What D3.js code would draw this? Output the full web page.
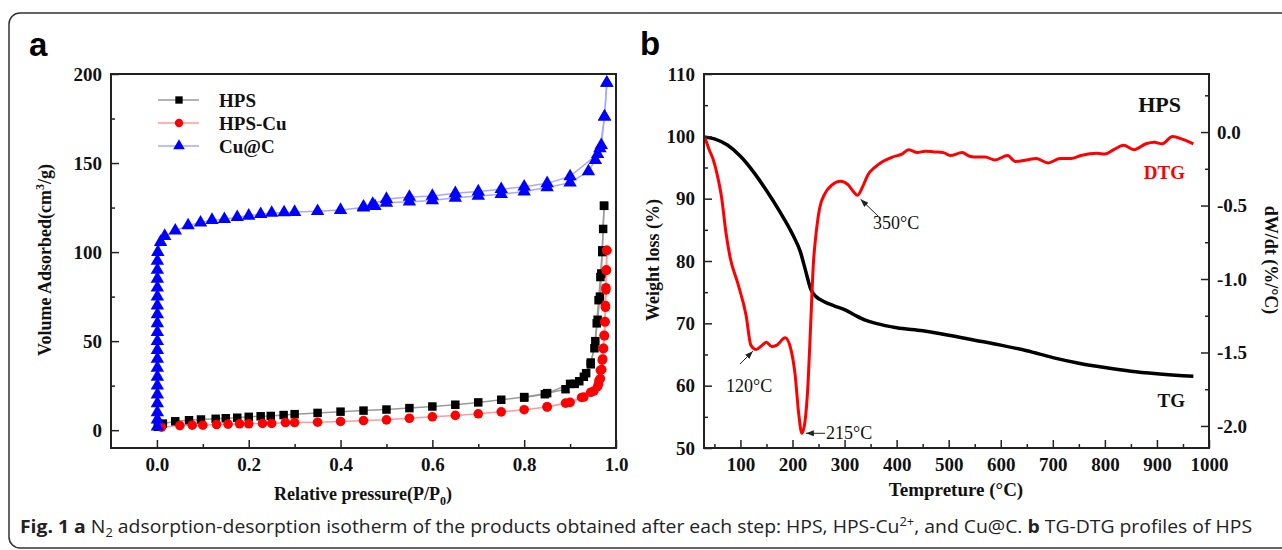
<!DOCTYPE html>
<html>
<head>
<meta charset="utf-8">
<script src="https://cdn.jsdelivr.net/npm/d3@7"></script>
<style>
  body { margin: 0; background: #fff; }
  svg { display: block; }
  .serif { font-family: "Liberation Serif", "Times New Roman", serif; font-weight: bold; fill: #111; }
  .ax text { font-family: "Liberation Serif", "Times New Roman", serif; font-weight: bold; font-size: 19px; fill: #111; }
  .ax line, .mn line { stroke: #222; stroke-width: 1.5; }
  .ax .domain, .mn .domain { display: none; }
</style>
</head>
<body>
<script>
// ---- panel a : N2 isotherms, [P/P0, volume]
const hpsAds = [[0.002,1.9],[0.013,3.7],[0.04,5],[0.07,5.6],[0.096,6],[0.128,6.4],[0.15,6.7],[0.175,7],[0.2,7.5],[0.226,7.8],[0.248,8],[0.276,8.5],[0.3,9],[0.35,9.7],[0.4,10.4],[0.45,11],[0.5,11.6],[0.55,12.4],[0.6,13.3],[0.65,14.3],[0.7,15.6],[0.75,17.1],[0.8,18.6],[0.85,20.8],[0.89,23],[0.91,26],[0.93,30],[0.945,37],[0.955,50],[0.96,62],[0.965,75],[0.968,88],[0.97,100],[0.972,113],[0.974,126]];
const hpsDes = [[0.974,126],[0.97,101],[0.966,86],[0.962,73],[0.958,60],[0.953,46],[0.945,38],[0.935,32],[0.92,27.5],[0.9,26],[0.845,20.2],[0.8,18.3]];
const cuAds = [[0.01,1.7],[0.05,2.6],[0.077,2.8],[0.1,2.8],[0.13,3.2],[0.155,3.4],[0.18,3.6],[0.2,3.6],[0.23,3.8],[0.25,3.8],[0.28,4.3],[0.3,4.3],[0.35,4.5],[0.4,4.9],[0.45,5.4],[0.5,5.8],[0.55,6.7],[0.6,7.5],[0.65,8.3],[0.7,9.2],[0.75,10.3],[0.8,11.5],[0.85,13],[0.89,15.2],[0.925,18.4],[0.945,21.3],[0.96,24.5],[0.963,28],[0.966,33.7],[0.97,39.3],[0.972,45.8],[0.974,53.3],[0.976,60.7],[0.977,69],[0.978,78.8],[0.979,89.7],[0.98,101]];
const cuDes = [[0.98,101],[0.979,90],[0.978,80],[0.977,70],[0.976,61],[0.975,53],[0.973,46],[0.971,40],[0.969,34],[0.966,29],[0.962,26],[0.952,22],[0.93,18.6],[0.9,15.6],[0.85,13.2]];
const cucAds = [[0.001,2],[0.001,6],[0.001,10],[0.001,15],[0.001,20],[0.001,25],[0.001,30],[0.001,35],[0.001,40],[0.001,45],[0.001,50],[0.001,55],[0.001,60],[0.001,65],[0.001,70],[0.001,75],[0.001,80],[0.001,85],[0.001,90],[0.001,95],[0.002,100],[0.008,105.6],[0.017,109],[0.04,112],[0.068,115],[0.095,116.5],[0.12,118],[0.147,118.5],[0.175,119.6],[0.2,120.4],[0.226,121.3],[0.25,122],[0.277,122.3],[0.3,122.5],[0.35,123],[0.4,123.6],[0.45,125],[0.475,125.8],[0.5,127.7],[0.55,128.3],[0.6,129],[0.65,130.5],[0.7,131.5],[0.75,132.5],[0.8,134],[0.85,136.3],[0.9,139],[0.94,145.3],[0.955,151.7],[0.965,158.3],[0.975,176],[0.98,195]];
const cucDes = [[0.98,195],[0.975,176],[0.968,160],[0.96,155],[0.9,142.5],[0.85,138.6],[0.8,136.7],[0.75,135.3],[0.7,134],[0.65,133],[0.6,131.5],[0.55,131],[0.5,129.8],[0.47,127],[0.45,125.5]];
const seriesNames = ["HPS", "HPS-Cu", "Cu@C"];
const pTicks = [0, 0.2, 0.4, 0.6, 0.8, 1.0];
const pMinor = [0.1, 0.3, 0.5, 0.7, 0.9];
const vTicks = [0, 50, 100, 150, 200];
const vMinor = [25, 75, 125, 175];

// ---- panel b : TG / DTG
const tgTemp   = [30, 50, 75, 100, 125, 150, 175, 200, 215, 225, 235, 245, 260, 280, 300, 320, 340, 360, 400, 450, 500, 550, 600, 650, 700, 750, 800, 850, 900, 950, 970];
const tgWeight = [99.9, 99.6, 98.6, 96.8, 94.3, 91.3, 88, 84.3, 81.5, 78.5, 75.5, 74.3, 73.5, 72.8, 72.2, 71.3, 70.5, 70, 69.3, 68.8, 68.1, 67.3, 66.5, 65.6, 64.5, 63.6, 62.9, 62.3, 61.9, 61.6, 61.5];
const dtgTemp = [31, 40, 48, 56, 64, 72, 80, 95, 111, 120, 130, 142, 150, 160, 170, 186, 197, 205, 212, 218, 224, 230, 235, 240, 245, 252, 262, 276, 292, 307, 318, 325, 335, 345, 358, 369, 392, 410, 423, 440, 455, 472, 490, 503, 526, 540, 550, 570, 589, 613, 628, 650, 668, 691, 714, 735, 754, 785, 800, 817, 836, 856, 879, 895, 910, 930, 950, 970];
const dtgRate = [-0.03, -0.12, -0.19, -0.3, -0.45, -0.68, -0.85, -1.03, -1.25, -1.45, -1.48, -1.45, -1.43, -1.46, -1.45, -1.4, -1.48, -1.65, -1.92, -2.05, -1.97, -1.7, -1.3, -0.9, -0.7, -0.52, -0.42, -0.36, -0.335, -0.36, -0.41, -0.43, -0.37, -0.29, -0.24, -0.21, -0.17, -0.15, -0.12, -0.14, -0.13, -0.135, -0.14, -0.16, -0.14, -0.165, -0.17, -0.17, -0.19, -0.16, -0.2, -0.19, -0.18, -0.21, -0.18, -0.18, -0.16, -0.145, -0.15, -0.12, -0.09, -0.12, -0.08, -0.07, -0.08, -0.03, -0.05, -0.08];
const tTicks = [100, 200, 300, 400, 500, 600, 700, 800, 900, 1000];
const tMinor = [50, 150, 250, 350, 450, 550, 650, 750, 850, 950];
const wTicks = [50, 60, 70, 80, 90, 100, 110];
const wMinor = [55, 65, 75, 85, 95, 105];
const rTicks = [-2.0, -1.5, -1.0, -0.5, 0.0];
const rMinor = [-1.75, -1.25, -0.75, -0.25, 0.25];
const peaks = [
  { label: "120°C", t: 120 },
  { label: "215°C", t: 218 },
  { label: "350°C", t: 325 }
];

const width = 1282, height = 550;
const svg = d3.select("body").append("svg").attr("width", width).attr("height", height);

svg.append("defs").append("marker")
  .attr("id", "arr").attr("viewBox", "0 0 8 6").attr("refX", 8).attr("refY", 3)
  .attr("markerWidth", 8).attr("markerHeight", 6).attr("markerUnits", "userSpaceOnUse")
  .attr("orient", "auto")
  .append("path").attr("d", "M0,0L8,3L0,6Z").attr("fill", "#222");

// outer figure box
svg.append("rect").attr("x", 9).attr("y", 13).attr("width", 1300).attr("height", 535)
  .attr("rx", 11).attr("fill", "none").attr("stroke", "#333").attr("stroke-width", 1.5);

function axes(g, x, y, xt, xm, yt, ym, fx, fy, yRight, yr, rt, rm, fr) {
  const b = y.range()[0], l = x.range()[0], r = x.range()[1];
  g.append("g").attr("class", "mn").attr("transform", `translate(0,${b})`)
    .call(d3.axisBottom(x).tickValues(xm).tickSize(-4).tickFormat(""));
  g.append("g").attr("class", "ax").attr("transform", `translate(0,${b})`)
    .call(d3.axisBottom(x).tickValues(xt).tickSize(-8).tickPadding(10).tickFormat(fx));
  g.append("g").attr("class", "mn").attr("transform", `translate(${l},0)`)
    .call(d3.axisLeft(y).tickValues(ym).tickSize(-4).tickFormat(""));
  g.append("g").attr("class", "ax").attr("transform", `translate(${l},0)`)
    .call(d3.axisLeft(y).tickValues(yt).tickSize(-8).tickPadding(9).tickFormat(fy));
  if (yRight) {
    g.append("g").attr("class", "mn").attr("transform", `translate(${r},0)`)
      .call(d3.axisRight(yr).tickValues(rm).tickSize(-4).tickFormat(""));
    g.append("g").attr("class", "ax").attr("transform", `translate(${r},0)`)
      .call(d3.axisRight(yr).tickValues(rt).tickSize(-8).tickPadding(8).tickFormat(fr));
  }
  g.append("rect").attr("x", l).attr("y", y.range()[1]).attr("width", r - l).attr("height", b - y.range()[1])
    .attr("fill", "none").attr("stroke", "#222").attr("stroke-width", 2);
}

// ================= panel a =================
const ga = svg.append("g");
const xa = d3.scaleLinear().domain([-0.1, 1.0]).range([111, 616]);
const ya = d3.scaleLinear().domain([-10, 200]).range([448, 74]);

ga.append("text").attr("x", 29).attr("y", 56).text("a")
  .style("font-family", "Liberation Sans, Arial, sans-serif").style("font-weight", "bold").style("font-size", "33px");

const lineA = d3.line().x(d => xa(d[0])).y(d => ya(d[1]));
const sym = [d3.symbolSquare, d3.symbolCircle, d3.symbolTriangle];
const symSize = [72, 72, 78];
const mainCol = ["#000", "#f00", "#00f"];
const lineCol = ["#9a9a9a", "#ff9a9a", "#a8a8ff"];
const groups = [[hpsAds, hpsDes], [cuAds, cuDes], [cucAds, cucDes]];

groups.forEach((branches, i) => {
  branches.forEach(pts => {
    ga.append("path").datum(pts).attr("d", lineA).attr("fill", "none")
      .attr("stroke", lineCol[i]).attr("stroke-width", 1.5);
  });
});
groups.forEach((branches, i) => {
  branches.forEach(pts => {
    ga.selectAll(null).data(pts).enter().append("path")
      .attr("transform", d => `translate(${xa(d[0])},${ya(d[1])})`)
      .attr("d", d3.symbol(sym[i], symSize[i]))
      .attr("fill", mainCol[i]);
  });
});

axes(ga, xa, ya, pTicks, pMinor, vTicks, vMinor, d => d.toFixed(1), d => d, false);

// legend
const leg = ga.append("g");
seriesNames.forEach((n, i) => {
  const ly = 100 + i * 23;
  leg.append("line").attr("x1", 158).attr("x2", 199).attr("y1", ly).attr("y2", ly)
    .attr("stroke", lineCol[i]).attr("stroke-width", 1.5);
  leg.append("path").attr("transform", `translate(179,${ly})`)
    .attr("d", d3.symbol(sym[i], symSize[i] * 0.75)).attr("fill", mainCol[i]);
  leg.append("text").attr("class", "serif").attr("x", 219).attr("y", ly).attr("dy", "0.35em")
    .style("font-size", "19px").text(n);
});

// axis titles a
const xta = ga.append("text").attr("class", "serif").attr("text-anchor", "middle")
  .attr("x", 363).attr("y", 500).style("font-size", "18px");
xta.append("tspan").text("Relative pressure(P/P");
xta.append("tspan").attr("dy", 5).style("font-size", "12px").text("0");
xta.append("tspan").attr("dy", -5).text(")");

const yta = ga.append("text").attr("class", "serif").attr("text-anchor", "middle")
  .attr("transform", "translate(51,260) rotate(-90)").style("font-size", "18px");
yta.append("tspan").text("Volume Adsorbed(cm");
yta.append("tspan").attr("dy", -7).style("font-size", "12px").text("3");
yta.append("tspan").attr("dy", 7).text("/g)");

// ================= panel b =================
const gb = svg.append("g");
const xb = d3.scaleLinear().domain([30, 1000]).range([704, 1209]);
const yb = d3.scaleLinear().domain([50, 110]).range([448, 74]);
const yr = d3.scaleLinear().domain([-2.15, 0.395]).range([448, 74]);

gb.append("text").attr("x", 640).attr("y", 55).text("b")
  .style("font-family", "Liberation Sans, Arial, sans-serif").style("font-weight", "bold").style("font-size", "33px");

gb.append("path").datum(tgTemp.map((t, i) => [t, tgWeight[i]]))
  .attr("d", d3.line().x(d => xb(d[0])).y(d => yb(d[1])).curve(d3.curveMonotoneX))
  .attr("fill", "none").attr("stroke", "#000").attr("stroke-width", 3.5);

gb.append("path").datum(dtgTemp.map((t, i) => [t, dtgRate[i]]))
  .attr("d", d3.line().x(d => xb(d[0])).y(d => yr(d[1])).curve(d3.curveMonotoneX))
  .attr("fill", "none").attr("stroke", "#f00").attr("stroke-width", 3);

axes(gb, xb, yb, tTicks, tMinor, wTicks, wMinor, d => d, d => d, true, yr, rTicks, rMinor, d => d.toFixed(1));

// labels in plot
gb.append("text").attr("class", "serif").attr("x", 1181).attr("y", 112).attr("text-anchor", "end")
  .style("font-size", "22px").text("HPS");
gb.append("text").attr("class", "serif").attr("x", 1185).attr("y", 179).attr("text-anchor", "end")
  .style("font-size", "19px").style("fill", "#f00").text("DTG");
gb.append("text").attr("class", "serif").attr("x", 1185).attr("y", 407).attr("text-anchor", "end")
  .style("font-size", "19px").text("TG");

// peak annotations
const rateAt = t => dtgRate[dtgTemp.indexOf(t)];
const ann = [
  { p: peaks[0], tx: 726, ty: 392, x1: 740, y1: 364, dx: 2, dy: 6 },
  { p: peaks[1], tx: 826, ty: 439, x1: 825, y1: 0, dx: 4, dy: 0 },
  { p: peaks[2], tx: 873, ty: 229, x1: 878, y1: 216, dx: 3, dy: 4 }
];
ann.forEach(a => {
  const px = xb(a.p.t) + a.dx, py = yr(rateAt(a.p.t)) + a.dy;
  gb.append("line").attr("x1", a.x1).attr("y1", a.y1 || py).attr("x2", px).attr("y2", py)
    .attr("stroke", "#222").attr("stroke-width", 1).attr("marker-end", "url(#arr)");
  gb.append("text").attr("class", "serif").attr("x", a.tx).attr("y", a.ty)
    .style("font-size", "18px").style("font-weight", "normal").text(a.p.label);
});

// axis titles b
gb.append("text").attr("class", "serif").attr("text-anchor", "middle")
  .attr("x", 956).attr("y", 496).style("font-size", "19px").text("Tempreture (°C)");
gb.append("text").attr("class", "serif").attr("text-anchor", "middle")
  .attr("transform", "translate(659,260) rotate(-90)").style("font-size", "18px").text("Weight loss (%)");
gb.append("text").attr("class", "serif").attr("text-anchor", "middle")
  .attr("transform", "translate(1265,260) rotate(90)").style("font-size", "18px").text("dW/dt (%/°C)");

// ================= caption =================
const cap = svg.append("text").attr("x", 20).attr("y", 533)
  .attr("textLength", 1232).attr("lengthAdjust", "spacingAndGlyphs")
  .style("font-family", "'Liberation Sans Narrow', 'Open Sans', sans-serif").style("font-size", "18px").style("fill", "#222");
cap.append("tspan").style("font-weight", "bold").text("Fig. 1 a");
cap.append("tspan").text(" N");
cap.append("tspan").attr("dy", 4).style("font-size", "12px").text("2");
cap.append("tspan").attr("dy", -4).text(" adsorption-desorption isotherm of the products obtained after each step: HPS, HPS-Cu");
cap.append("tspan").attr("dy", -7).style("font-size", "12px").text("2+");
cap.append("tspan").attr("dy", 7).text(", and Cu@C. ");
cap.append("tspan").style("font-weight", "bold").text("b");
cap.append("tspan").text(" TG-DTG profiles of HPS");
</script>
</body>
</html>
